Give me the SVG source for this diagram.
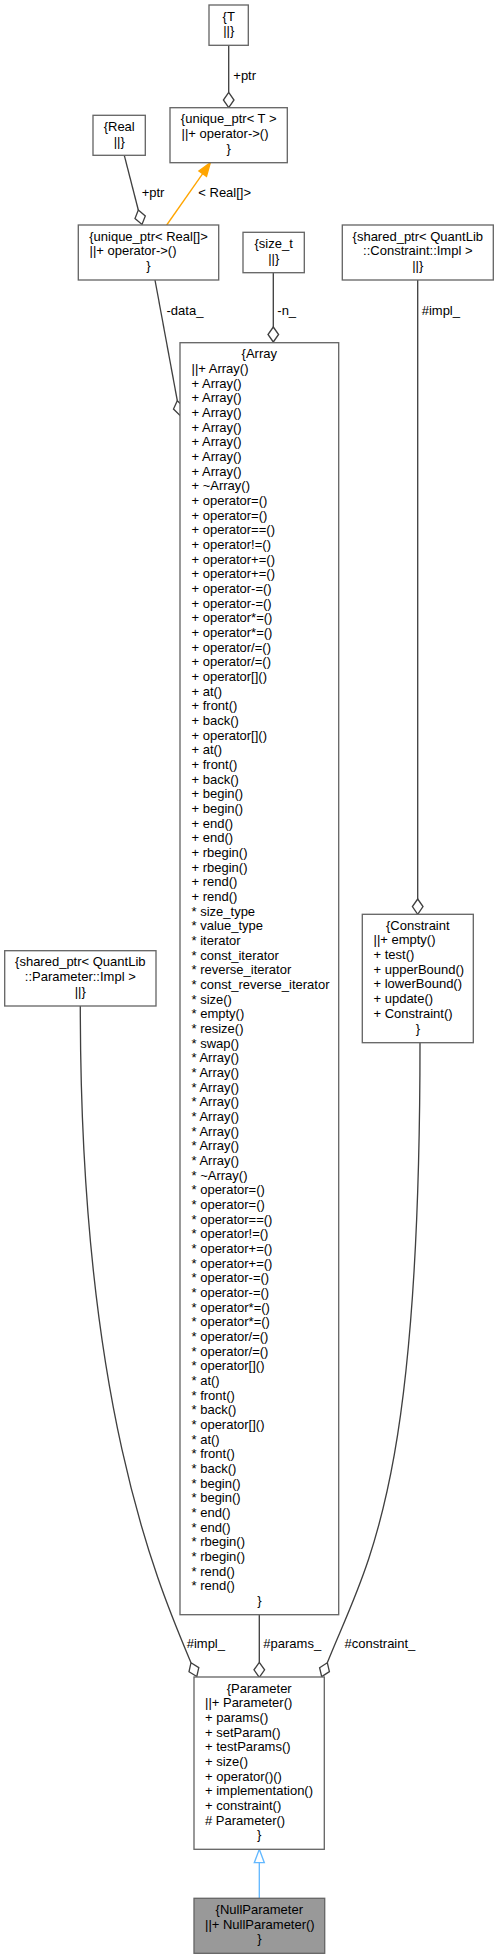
<svg xmlns="http://www.w3.org/2000/svg" width="499" height="1959" viewBox="0 0 499 1959">
<style>
.n{fill:#fff;stroke:#666;stroke-width:1.33}
.g{fill:#999;stroke:#666;stroke-width:1.33}
.t{font-family:"Liberation Sans",Arial,Helvetica,sans-serif;font-size:13px;fill:#000}
.c{text-anchor:middle}
.e{fill:none;stroke:#404040;stroke-width:1.33}
.d{fill:#fff;stroke:#404040;stroke-width:1.33}
.o{fill:none;stroke:#FFA500;stroke-width:1.33}
.oh{fill:#FFA500;stroke:#FFA500;stroke-width:1.33}
.b{fill:none;stroke:#63B8FF;stroke-width:1.33}
.bh{fill:#fff;stroke:#63B8FF;stroke-width:1.33}
</style>
<rect width="499" height="1959" fill="#fff"/>
<g id="connectors">
  <path class="e" d="M228.7,45.3 L228.7,92.3"/>
  <polygon class="d" points="228.7,92.3 234,100 228.7,107.7 223.4,100"/>
  <text class="t" x="233.3" y="80">+ptr</text>

  <path class="e" d="M124.3,155.3 L138.3,210"/>
  <polygon class="d" points="138.3,210 145.3,215.9 142,224.5 135,218.6"/>
  <text class="t" x="141.7" y="196.7">+ptr</text>

  <path class="o" d="M166.7,225 L202.7,173.6"/>
  <polygon class="oh" points="210.3,162.7 206.5,176.3 198.9,170.9"/>
  <text class="t" x="198.3" y="196.7">&lt; Real[]&gt;</text>

  <path class="e" d="M155,280 L177.3,400.7"/>
  <polygon class="d" points="177.3,400.7 183.9,407.1 180,415.4 173.5,409"/>
  <text class="t" x="166.5" y="314.5">-data_</text>

  <path class="e" d="M273.3,272.7 L273.3,327"/>
  <polygon class="d" points="273.3,327 278.6,334.5 273.3,342 268,334.5"/>
  <text class="t" x="277.3" y="314.5">-n_</text>

  <path class="e" d="M417.7,280 L417.7,899"/>
  <polygon class="d" points="417.7,899 423,906.6 417.7,914.3 412.4,906.6"/>
  <text class="t" x="421.7" y="314.5">#impl_</text>

  <path class="e" d="M80.3,1006 C80.3,1406 157.4,1582.7 191,1662.7"/>
  <polygon class="d" points="191,1662.7 198.8,1667.6 196.8,1676.5 189,1671.7"/>
  <text class="t" x="186.7" y="1648">#impl_</text>

  <path class="e" d="M259.3,1614.7 L259.3,1662.3"/>
  <polygon class="d" points="259.3,1662.3 264.6,1669.8 259.3,1677.3 254,1669.8"/>
  <text class="t" x="263.3" y="1648">#params_</text>

  <path class="e" d="M420,1042.7 C420,1492.7 367.3,1562.7 327.3,1662.7"/>
  <polygon class="d" points="327.3,1662.7 329.4,1671.6 321.7,1676.6 319.6,1667.7"/>
  <text class="t" x="344.5" y="1648">#constraint_</text>

  <path class="b" d="M259.3,1898.3 L259.3,1862.7"/>
  <polygon class="bh" points="259.3,1849.3 264.3,1862.7 254.3,1862.7"/>
</g>

<g id="node-T">
  <rect class="n" x="209" y="5" width="39.3" height="40.3"/>
  <text class="t c" x="228.7" y="20.7">{T</text>
  <text class="t c" x="228.7" y="35.3">||}</text>
</g>

<g id="node-unique_ptr-T">
  <rect class="n" x="170" y="107.7" width="117.3" height="55"/>
  <text class="t c" x="228.7" y="123.2">{unique_ptr&lt; T &gt;</text>
  <text class="t" x="181.5" y="137.9">||+ operator-&gt;()</text>
  <text class="t c" x="228.7" y="152.5">}</text>
</g>

<g id="node-Real">
  <rect class="n" x="93" y="115.3" width="52.3" height="40"/>
  <text class="t c" x="119.2" y="130.8">{Real</text>
  <text class="t c" x="119.2" y="145.5">||}</text>
</g>

<g id="node-unique_ptr-Real">
  <rect class="n" x="78.3" y="225" width="140.4" height="55"/>
  <text class="t c" x="148.5" y="240.5">{unique_ptr&lt; Real[]&gt;</text>
  <text class="t" x="89.5" y="255.2">||+ operator-&gt;()</text>
  <text class="t c" x="148.5" y="269.8">}</text>
</g>

<g id="node-size_t">
  <rect class="n" x="243" y="232.3" width="61.3" height="40.4"/>
  <text class="t c" x="273.7" y="247.8">{size_t</text>
  <text class="t c" x="273.7" y="262.5">||}</text>
</g>

<g id="node-shared_ptr-Constraint-Impl">
  <rect class="n" x="342.3" y="225" width="151" height="55"/>
  <text class="t c" x="417.8" y="240.5">{shared_ptr&lt; QuantLib</text>
  <text class="t c" x="417.8" y="255.2">::Constraint::Impl &gt;</text>
  <text class="t c" x="417.8" y="269.8">||}</text>
</g>

<g id="node-Array">
  <rect class="n" x="180" y="342.7" width="158.7" height="1272"/>
  <text class="t c" x="259.3" y="358.3">{Array</text>
  <text class="t" x="191.5" y="358.3"><tspan x="191.5" dy="14.667">||+ Array()</tspan><tspan x="191.5" dy="14.667">+ Array()</tspan><tspan x="191.5" dy="14.667">+ Array()</tspan><tspan x="191.5" dy="14.667">+ Array()</tspan><tspan x="191.5" dy="14.667">+ Array()</tspan><tspan x="191.5" dy="14.667">+ Array()</tspan><tspan x="191.5" dy="14.667">+ Array()</tspan><tspan x="191.5" dy="14.667">+ Array()</tspan><tspan x="191.5" dy="14.667">+ ~Array()</tspan><tspan x="191.5" dy="14.667">+ operator=()</tspan><tspan x="191.5" dy="14.667">+ operator=()</tspan><tspan x="191.5" dy="14.667">+ operator==()</tspan><tspan x="191.5" dy="14.667">+ operator!=()</tspan><tspan x="191.5" dy="14.667">+ operator+=()</tspan><tspan x="191.5" dy="14.667">+ operator+=()</tspan><tspan x="191.5" dy="14.667">+ operator-=()</tspan><tspan x="191.5" dy="14.667">+ operator-=()</tspan><tspan x="191.5" dy="14.667">+ operator*=()</tspan><tspan x="191.5" dy="14.667">+ operator*=()</tspan><tspan x="191.5" dy="14.667">+ operator/=()</tspan><tspan x="191.5" dy="14.667">+ operator/=()</tspan><tspan x="191.5" dy="14.667">+ operator[]()</tspan><tspan x="191.5" dy="14.667">+ at()</tspan><tspan x="191.5" dy="14.667">+ front()</tspan><tspan x="191.5" dy="14.667">+ back()</tspan><tspan x="191.5" dy="14.667">+ operator[]()</tspan><tspan x="191.5" dy="14.667">+ at()</tspan><tspan x="191.5" dy="14.667">+ front()</tspan><tspan x="191.5" dy="14.667">+ back()</tspan><tspan x="191.5" dy="14.667">+ begin()</tspan><tspan x="191.5" dy="14.667">+ begin()</tspan><tspan x="191.5" dy="14.667">+ end()</tspan><tspan x="191.5" dy="14.667">+ end()</tspan><tspan x="191.5" dy="14.667">+ rbegin()</tspan><tspan x="191.5" dy="14.667">+ rbegin()</tspan><tspan x="191.5" dy="14.667">+ rend()</tspan><tspan x="191.5" dy="14.667">+ rend()</tspan><tspan x="191.5" dy="14.667">* size_type</tspan><tspan x="191.5" dy="14.667">* value_type</tspan><tspan x="191.5" dy="14.667">* iterator</tspan><tspan x="191.5" dy="14.667">* const_iterator</tspan><tspan x="191.5" dy="14.667">* reverse_iterator</tspan><tspan x="191.5" dy="14.667">* const_reverse_iterator</tspan><tspan x="191.5" dy="14.667">* size()</tspan><tspan x="191.5" dy="14.667">* empty()</tspan><tspan x="191.5" dy="14.667">* resize()</tspan><tspan x="191.5" dy="14.667">* swap()</tspan><tspan x="191.5" dy="14.667">* Array()</tspan><tspan x="191.5" dy="14.667">* Array()</tspan><tspan x="191.5" dy="14.667">* Array()</tspan><tspan x="191.5" dy="14.667">* Array()</tspan><tspan x="191.5" dy="14.667">* Array()</tspan><tspan x="191.5" dy="14.667">* Array()</tspan><tspan x="191.5" dy="14.667">* Array()</tspan><tspan x="191.5" dy="14.667">* Array()</tspan><tspan x="191.5" dy="14.667">* ~Array()</tspan><tspan x="191.5" dy="14.667">* operator=()</tspan><tspan x="191.5" dy="14.667">* operator=()</tspan><tspan x="191.5" dy="14.667">* operator==()</tspan><tspan x="191.5" dy="14.667">* operator!=()</tspan><tspan x="191.5" dy="14.667">* operator+=()</tspan><tspan x="191.5" dy="14.667">* operator+=()</tspan><tspan x="191.5" dy="14.667">* operator-=()</tspan><tspan x="191.5" dy="14.667">* operator-=()</tspan><tspan x="191.5" dy="14.667">* operator*=()</tspan><tspan x="191.5" dy="14.667">* operator*=()</tspan><tspan x="191.5" dy="14.667">* operator/=()</tspan><tspan x="191.5" dy="14.667">* operator/=()</tspan><tspan x="191.5" dy="14.667">* operator[]()</tspan><tspan x="191.5" dy="14.667">* at()</tspan><tspan x="191.5" dy="14.667">* front()</tspan><tspan x="191.5" dy="14.667">* back()</tspan><tspan x="191.5" dy="14.667">* operator[]()</tspan><tspan x="191.5" dy="14.667">* at()</tspan><tspan x="191.5" dy="14.667">* front()</tspan><tspan x="191.5" dy="14.667">* back()</tspan><tspan x="191.5" dy="14.667">* begin()</tspan><tspan x="191.5" dy="14.667">* begin()</tspan><tspan x="191.5" dy="14.667">* end()</tspan><tspan x="191.5" dy="14.667">* end()</tspan><tspan x="191.5" dy="14.667">* rbegin()</tspan><tspan x="191.5" dy="14.667">* rbegin()</tspan><tspan x="191.5" dy="14.667">* rend()</tspan><tspan x="191.5" dy="14.667">* rend()</tspan></text>
  <text class="t c" x="259.3" y="1605">}</text>
</g>

<g id="node-shared_ptr-Parameter-Impl">
  <rect class="n" x="4.7" y="950.7" width="151.3" height="55.3"/>
  <text class="t c" x="80.3" y="966.2">{shared_ptr&lt; QuantLib</text>
  <text class="t c" x="80.3" y="980.9">::Parameter::Impl &gt;</text>
  <text class="t c" x="80.3" y="995.5">||}</text>
</g>

<g id="node-Constraint">
  <rect class="n" x="362.3" y="914.3" width="111" height="128.4"/>
  <text class="t c" x="417.8" y="929.8">{Constraint</text>
  <text class="t" x="373.5" y="929.8"><tspan x="373.5" dy="14.667">||+ empty()</tspan><tspan x="373.5" dy="14.667">+ test()</tspan><tspan x="373.5" dy="14.667">+ upperBound()</tspan><tspan x="373.5" dy="14.667">+ lowerBound()</tspan><tspan x="373.5" dy="14.667">+ update()</tspan><tspan x="373.5" dy="14.667">+ Constraint()</tspan></text>
  <text class="t c" x="417.8" y="1032.5">}</text>
</g>

<g id="node-Parameter">
  <rect class="n" x="194" y="1677" width="130.3" height="172.3"/>
  <text class="t c" x="259.2" y="1692.6">{Parameter</text>
  <text class="t" x="205" y="1692.6"><tspan x="205" dy="14.667">||+ Parameter()</tspan><tspan x="205" dy="14.667">+ params()</tspan><tspan x="205" dy="14.667">+ setParam()</tspan><tspan x="205" dy="14.667">+ testParams()</tspan><tspan x="205" dy="14.667">+ size()</tspan><tspan x="205" dy="14.667">+ operator()()</tspan><tspan x="205" dy="14.667">+ implementation()</tspan><tspan x="205" dy="14.667">+ constraint()</tspan><tspan x="205" dy="14.667"># Parameter()</tspan></text>
  <text class="t c" x="259.2" y="1839.3">}</text>
</g>

<g id="node-NullParameter">
  <rect class="g" x="194" y="1898.3" width="130.7" height="55"/>
  <text class="t c" x="259.3" y="1913.8">{NullParameter</text>
  <text class="t" x="205" y="1928.5">||+ NullParameter()</text>
  <text class="t c" x="259.3" y="1943.2">}</text>
</g>
</svg>
